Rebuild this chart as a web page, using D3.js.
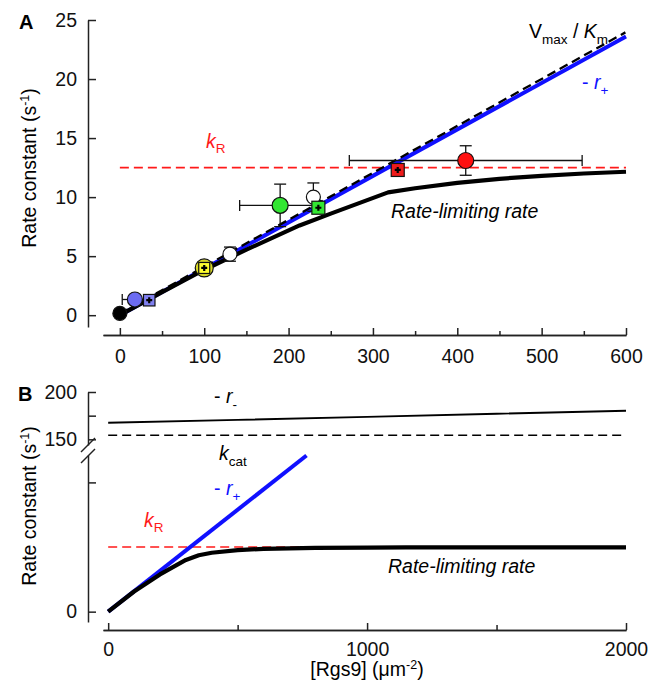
<!DOCTYPE html>
<html>
<head>
<meta charset="utf-8">
<script src="https://cdn.jsdelivr.net/npm/d3@7"></script>
<style>
  body { margin: 0; background: #fff; }
  svg { display: block; font-family: Arial, "Liberation Sans", sans-serif; }
</style>
</head>
<body>
<svg width="657" height="686"></svg>
<script>
/* ---- panel A data ---- */
var xTicksA = [0, 100, 200, 300, 400, 500, 600];
var xMinorA = [50, 150, 250, 350, 450, 550];
var yTicksA = [0, 5, 10, 15, 20, 25];
var kR = 12.5;
var vmaxKmA = [[0, 0], [600, 23.85]];
var rPlusA = [[0, 0], [600, 23.6]];
var rateLimA = [[0, 0], [50, 1.95], [100, 3.85], [150, 5.55], [213, 7.6], [250, 8.6],
  [318, 10.4], [350, 10.75], [400, 11.2], [450, 11.55], [500, 11.8], [550, 12.0], [600, 12.15]];

/* measured points: circles and squares */
var circleX = [0, 17.8, 100, 130.5, 190, 229.4, 410];
var circleY = [0.15, 1.33, 4.0, 5.17, 9.3, 10.0, 13.1];
var circleXErr = [0, 15, 0, 0, 48, 0, 138];
var circleYErr = [0, 0, 0, 0.6, 1.8, 1.2, 1.25];
var squareX = [34.8, 100, 235.3, 329.4];
var squareY = [1.27, 4.0, 9.1, 12.3];

/* ---- panel B data ---- */
var xTicksB = [0, 1000, 2000];
var xMinorB = [500, 1500];
var yTicksBLow = [0, 25];
var yTicksBHigh = [150, 175, 200];
var rPlusB = [[0, 0], [766, 30.2]];
var rMinusB = [[0, 167.5], [500, 170.5], [1000, 173.8], [1500, 177], [2000, 180.2]];
var kcatB = 154.3;
var rateLimB = [[0, 0], [100, 3.9], [200, 7.2], [300, 10.0], [350, 10.9], [400, 11.4],
  [500, 11.9], [600, 12.15], [800, 12.35], [1000, 12.4], [1150, 12.45], [1500, 12.45], [2000, 12.45]];

/* styles */
var circleFill = ["#000", "#6b6bf2", "#d8d826", "#fff", "#33e633", "#fff", "#ff1010"];
var circleR = [7, 7.5, 9, 7, 8, 7, 8];
var squareFill = ["#8080f0", "#ffff30", "#33e633", "#ee1a1a"];
var squareSize = [11.5, 11, 13, 13];
var RED = "#ff1a1a", BLUE = "#1010ff";
var FS = 19.5, SUB = 13.5;

var svg = d3.select("svg");

/* ---- scales ---- */
var xA = d3.scaleLinear().domain([-20, 600]).range([103, 626]);
var yA = d3.scaleLinear().domain([-1, 25]).range([327, 20]);
var xB = d3.scaleLinear().domain([-20, 2000]).range([103, 626]);
var yBLow = d3.scaleLinear().domain([-2, 30.3]).range([622, 455]);
var yBHigh = d3.scaleLinear().domain([144, 200]).range([445, 392]);

var lineA = d3.line().x(d => xA(d[0])).y(d => yA(d[1]));
var lineBLow = d3.line().x(d => xB(d[0])).y(d => yBLow(d[1]));
var lineBHigh = d3.line().x(d => xB(d[0])).y(d => yBHigh(d[1]));

function styleAxis(g) {
  g.select(".domain").attr("stroke", "#222").attr("stroke-width", 1.5);
  g.selectAll(".tick line").attr("stroke", "#222").attr("stroke-width", 1.5);
  g.selectAll(".tick text").attr("font-size", FS).attr("fill", "#111")
    .attr("font-family", "Arial, 'Liberation Sans', sans-serif");
}

/* ---- panel A axes ---- */
svg.append("g").attr("transform", "translate(0,335)")
  .call(d3.axisBottom(xA).tickValues(xMinorA).tickSize(-4).tickSizeOuter(0).tickFormat(""))
  .call(styleAxis);
svg.append("g").attr("transform", "translate(0,335)")
  .call(d3.axisBottom(xA).tickValues(xTicksA).tickSize(-7).tickSizeOuter(0).tickPadding(14))
  .call(styleAxis);
svg.append("g").attr("transform", "translate(88,0)")
  .call(d3.axisLeft(yA).tickValues(yTicksA).tickSize(-8).tickSizeOuter(0).tickPadding(11))
  .call(styleAxis);

/* ---- panel A lines ---- */
svg.append("path").attr("d", lineA([[0, kR], [600, kR]]))
  .attr("fill", "none").attr("stroke", RED).attr("stroke-width", 1.6).attr("stroke-dasharray", "9,5");
svg.append("path").attr("d", lineA(rPlusA))
  .attr("fill", "none").attr("stroke", BLUE).attr("stroke-width", 4);
svg.append("path").attr("d", lineA(rateLimA))
  .attr("fill", "none").attr("stroke", "#000").attr("stroke-width", 4.2).attr("stroke-linejoin", "round");
svg.append("path").attr("d", lineA(vmaxKmA)).attr("transform", "translate(-0.6,-1.2)")
  .attr("fill", "none").attr("stroke", "#000").attr("stroke-width", 2.3).attr("stroke-dasharray", "9,5");

/* error bars */
var errG = svg.append("g").attr("stroke", "#111").attr("stroke-width", 1.3);
circleX.forEach(function (cx, i) {
  var px = xA(cx), py = yA(circleY[i]);
  if (circleXErr[i] > 0) {
    var x0 = xA(cx - circleXErr[i]), x1 = xA(cx + circleXErr[i]);
    errG.append("line").attr("x1", x0).attr("x2", x1).attr("y1", py).attr("y2", py);
    errG.append("line").attr("x1", x0).attr("x2", x0).attr("y1", py - 5.5).attr("y2", py + 5.5);
    errG.append("line").attr("x1", x1).attr("x2", x1).attr("y1", py - 5.5).attr("y2", py + 5.5);
  }
  if (circleYErr[i] > 0) {
    var y0 = yA(circleY[i] - circleYErr[i]), y1 = yA(circleY[i] + circleYErr[i]);
    errG.append("line").attr("x1", px).attr("x2", px).attr("y1", y0).attr("y2", y1);
    errG.append("line").attr("x1", px - 6).attr("x2", px + 6).attr("y1", y0).attr("y2", y0);
    errG.append("line").attr("x1", px - 6).attr("x2", px + 6).attr("y1", y1).attr("y2", y1);
  }
});

/* circles */
svg.append("g").selectAll("circle")
  .data(circleX).enter().append("circle")
  .attr("cx", d => xA(d))
  .attr("cy", (d, i) => yA(circleY[i]))
  .attr("r", (d, i) => circleR[i])
  .attr("fill", (d, i) => circleFill[i])
  .attr("stroke", "#111").attr("stroke-width", 1.2);

/* squares with plus */
var sq = svg.append("g").selectAll("g")
  .data(squareX).enter().append("g")
  .attr("transform", (d, i) => "translate(" + xA(d) + "," + yA(squareY[i]) + ")");
sq.append("rect")
  .attr("x", (d, i) => -squareSize[i] / 2).attr("y", (d, i) => -squareSize[i] / 2)
  .attr("width", (d, i) => squareSize[i]).attr("height", (d, i) => squareSize[i])
  .attr("fill", (d, i) => squareFill[i]).attr("stroke", "#111").attr("stroke-width", 1.2);
sq.append("path").attr("d", "M-3,0H3M0,-3V3").attr("stroke", "#000").attr("stroke-width", 2.2);

/* ---- text helpers ---- */
function label(x, y, parts, color, size) {
  var t = svg.append("text").attr("x", x).attr("y", y).attr("fill", color || "#000")
    .attr("font-size", size || FS);
  parts.forEach(function (p) {
    var s = t.append("tspan").text(p.t);
    if (p.it) s.attr("font-style", "italic");
    if (p.sub) s.attr("font-size", SUB).attr("dy", p.dy);
    if (p.back) s.attr("dy", p.back);
  });
  return t;
}

function yTitle(cy) {
  var t = svg.append("text").attr("transform", "translate(36," + cy + ") rotate(-90)")
    .attr("text-anchor", "middle").attr("font-size", FS);
  t.append("tspan").text("Rate constant (s");
  t.append("tspan").text("-1").attr("font-size", 12.5).attr("dy", -7);
  t.append("tspan").text(")").attr("dy", 7);
}

/* ---- panel A text ---- */
svg.append("text").attr("x", 19).attr("y", 29).attr("font-size", 20).attr("font-weight", "bold").text("A");
label(206, 148, [{ t: "k", it: true }, { t: "R", sub: true, dy: 5 }], RED);
label(529, 38, [{ t: "V" }, { t: "max", sub: true, dy: 6 }, { t: " / ", back: -6 }, { t: "K", it: true }, { t: "m", sub: true, dy: 6 }], "#000");
label(582, 89, [{ t: "- " }, { t: "r", it: true }, { t: "+", sub: true, dy: 6 }], BLUE);
label(391, 218, [{ t: "Rate-limiting rate", it: true }], "#000");
yTitle(168);

/* ---- panel B axes ---- */
svg.append("g").attr("transform", "translate(0,630)")
  .call(d3.axisBottom(xB).tickValues(xMinorB).tickSize(-5).tickSizeOuter(0).tickFormat(""))
  .call(styleAxis);
svg.append("g").attr("transform", "translate(0,630)")
  .call(d3.axisBottom(xB).tickValues(xTicksB).tickSize(-7).tickSizeOuter(0).tickPadding(12)
    .tickFormat(d3.format("d")))
  .call(styleAxis);
svg.append("g").attr("transform", "translate(88,0)")
  .call(d3.axisLeft(yBLow).tickValues(yTicksBLow).tickSize(-8).tickSizeOuter(0).tickPadding(11)
    .tickFormat(d => d === 0 ? "0" : ""))
  .call(styleAxis);
svg.append("g").attr("transform", "translate(88,0)")
  .call(d3.axisLeft(yBHigh).tickValues(yTicksBHigh).tickSize(-8).tickSizeOuter(0).tickPadding(11)
    .tickFormat(d => d === 175 ? "" : d))
  .call(styleAxis);

/* axis break marks */
svg.append("g").attr("stroke", "#222").attr("stroke-width", 1.5)
  .selectAll("line").data([0, 11]).enter().append("line")
  .attr("x1", 81).attr("x2", 95)
  .attr("y1", d => 452 + d).attr("y2", d => 438 + d);

/* ---- panel B lines ---- */
svg.append("path").attr("d", lineBHigh(rMinusB))
  .attr("fill", "none").attr("stroke", "#000").attr("stroke-width", 1.8);
svg.append("path").attr("d", lineBHigh([[0, kcatB], [2000, kcatB]]))
  .attr("fill", "none").attr("stroke", "#000").attr("stroke-width", 1.6).attr("stroke-dasharray", "9,5");
svg.append("path").attr("d", lineBLow([[0, kR], [2000, kR]]))
  .attr("fill", "none").attr("stroke", RED).attr("stroke-width", 1.4).attr("stroke-dasharray", "9,5");
svg.append("path").attr("d", lineBLow(rPlusB))
  .attr("fill", "none").attr("stroke", BLUE).attr("stroke-width", 4);
svg.append("path").attr("d", lineBLow(rateLimB))
  .attr("fill", "none").attr("stroke", "#000").attr("stroke-width", 4.2).attr("stroke-linejoin", "round");

/* ---- panel B text ---- */
svg.append("text").attr("x", 18).attr("y", 401).attr("font-size", 20).attr("font-weight", "bold").text("B");
label(214, 403, [{ t: "- " }, { t: "r", it: true }, { t: "-", sub: true, dy: 6 }], "#000");
label(219, 460, [{ t: "k", it: true }, { t: "cat", sub: true, dy: 6 }], "#000");
label(214, 495, [{ t: "- " }, { t: "r", it: true }, { t: "+", sub: true, dy: 6 }], BLUE);
label(144, 527, [{ t: "k", it: true }, { t: "R", sub: true, dy: 5 }], RED);
label(388, 573, [{ t: "Rate-limiting rate", it: true }], "#000");
yTitle(506);

var xt = svg.append("text").attr("x", 367).attr("y", 676).attr("text-anchor", "middle").attr("font-size", FS);
xt.append("tspan").text("[Rgs9] (\u03bcm");
xt.append("tspan").text("-2").attr("font-size", 12.5).attr("dy", -7);
xt.append("tspan").text(")").attr("dy", 7);
</script>
</body>
</html>
